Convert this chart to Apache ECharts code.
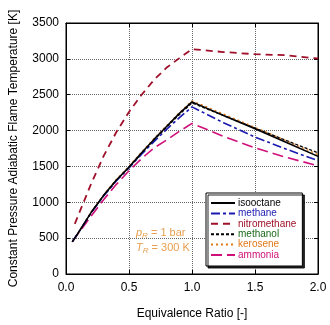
<!DOCTYPE html>
<html>
<head>
<meta charset="utf-8">
<script src="https://cdn.jsdelivr.net/npm/echarts@6/dist/echarts.min.js"></script>
<style>
  html, body { margin: 0; padding: 0; background: #fff; }
  #chart { width: 330px; height: 325px; }
</style>
</head>
<body>
<div id="chart"></div>
<script>
// Equivalence ratios at which the flame temperatures are tabulated
const phi = [0.05, 0.1, 0.2, 0.3, 0.4, 0.5, 0.6, 0.7, 0.8, 0.9, 1.0, 1.25, 1.5, 1.75, 2.0];
const phiNitro = [0.07, 0.1, 0.2, 0.3, 0.4, 0.5, 0.6, 0.7, 0.8, 0.9, 1.0, 1.25, 1.5, 1.75, 2.0];

// Adiabatic flame temperature [K] per fuel
const isooctane    = [450, 580, 860, 1100, 1310, 1490, 1690, 1880, 2060, 2240, 2400, 2210, 2025, 1835, 1640];
const methane      = [450, 580, 855, 1090, 1300, 1480, 1670, 1850, 2020, 2180, 2330, 2110, 1910, 1740, 1580];
const nitromethane = [700, 830, 1260, 1650, 1980, 2260, 2500, 2710, 2880, 3010, 3135, 3095, 3065, 3050, 3005];
const methanol     = [450, 580, 855, 1095, 1305, 1485, 1680, 1870, 2050, 2225, 2385, 2210, 2035, 1860, 1690];
const kerosene     = [450, 585, 865, 1105, 1320, 1500, 1700, 1890, 2070, 2250, 2415, 2230, 2045, 1855, 1665];
const ammonia      = [450, 570, 810, 1040, 1250, 1440, 1610, 1760, 1870, 1990, 2100, 1920, 1760, 1625, 1510];

const fuelNames  = ['isooctane', 'methane', 'nitromethane', 'methanol', 'kerosene', 'ammonia'];
const textColors = ['#000000', '#1a1ab0', '#a0102a', '#1a6a1a', '#e07818', '#d0107a'];

const xTicks = { min: 0, max: 2, interval: 0.5 };
const yTicks = { min: 0, max: 3500, interval: 500 };

const font = 'Liberation Sans, Arial, sans-serif';

function pairs(xs, ys) { return xs.map((x, i) => [x, ys[i]]); }

const lineDefs = [
  { data: pairs(phi, isooctane),        color: '#000000', type: 'solid',   width: 1.6 },
  { data: pairs(phi, methane),          color: '#1a1ab0', type: [9, 3, 3, 3], width: 1.6 },
  { data: pairs(phiNitro, nitromethane),color: '#a0102a', type: [7, 5],   width: 1.8 },
  { data: pairs(phi, methanol),         color: '#000000', type: [3, 2],   width: 1.3 },
  { data: pairs(phi, kerosene),         color: '#e07818', type: [2, 3],   width: 1.4 },
  { data: pairs(phi, ammonia),          color: '#d0107a', type: [11, 5],  width: 1.6 }
];

const series = lineDefs.map((d, i) => ({
  name: fuelNames[i],
  type: 'line',
  data: d.data,
  symbol: 'none',
  smooth: false,
  z: 10 - i,
  lineStyle: { color: d.color, type: d.type, width: d.width },
  itemStyle: { color: d.color },
  animation: false
}));

const chart = echarts.init(document.getElementById('chart'), null, { renderer: 'canvas' });

const gridLine = { show: true, lineStyle: { color: '#666', type: [1, 1], width: 1 } };

chart.setOption({
  animation: false,
  backgroundColor: '#ffffff',
  grid: { left: 62.5, right: 12, top: 23, bottom: 48.5, show: true, borderColor: '#000', borderWidth: 1, backgroundColor: 'transparent' },
  xAxis: [{
    type: 'value', min: xTicks.min, max: xTicks.max, interval: xTicks.interval,
    name: 'Equivalence Ratio [-]', nameLocation: 'middle', nameGap: 34,
    nameTextStyle: { color: '#000', fontSize: 12, fontFamily: font },
    axisLine: { show: true, onZero: false, lineStyle: { color: '#000', width: 1 } },
    axisTick: { show: true, inside: true, length: 4, lineStyle: { color: '#000' } },
    axisLabel: { color: '#000', fontSize: 12, fontFamily: font, margin: 8,
      formatter: v => v.toFixed(1) },
    splitLine: gridLine
  }, {
    type: 'value', position: 'top', min: xTicks.min, max: xTicks.max, interval: xTicks.interval,
    axisLine: { show: true, onZero: false, lineStyle: { color: '#000' } },
    axisTick: { show: true, inside: true, length: 4, lineStyle: { color: '#000' } },
    axisLabel: { show: false }, splitLine: { show: false }
  }],
  yAxis: [{
    type: 'value', min: yTicks.min, max: yTicks.max, interval: yTicks.interval,
    name: 'Constant Pressure Adiabatic Flame Temperature [K]', nameLocation: 'middle', nameGap: 46,
    nameTextStyle: { color: '#000', fontSize: 12, fontFamily: font },
    axisLine: { show: true, onZero: false, lineStyle: { color: '#000', width: 1 } },
    axisTick: { show: true, inside: true, length: 4, lineStyle: { color: '#000' } },
    axisLabel: { color: '#000', fontSize: 12, fontFamily: font, margin: 7,
      formatter: v => String(v) },
    splitLine: gridLine
  }, {
    type: 'value', position: 'right', min: yTicks.min, max: yTicks.max, interval: yTicks.interval,
    axisLine: { show: true, onZero: false, lineStyle: { color: '#000' } },
    axisTick: { show: true, inside: true, length: 4, lineStyle: { color: '#000' } },
    axisLabel: { show: false }, splitLine: { show: false }
  }],
  legend: {
    orient: 'vertical',
    left: 206, top: 193,
    padding: [5, 6, 6, 4],
    itemWidth: 24, itemHeight: 9, itemGap: 0.4,
    backgroundColor: '#ffffff',
    borderColor: '#000', borderWidth: 1, borderRadius: 0,
    shadowColor: 'rgba(0,0,0,0.85)', shadowBlur: 0, shadowOffsetX: 2, shadowOffsetY: 2,
    itemStyle: { opacity: 0, borderWidth: 0 },
    textStyle: { fontSize: 10, fontFamily: font, lineHeight: 9, padding: [0, 0, 0, -2] },
    data: fuelNames.map((n, i) => ({ name: n, textStyle: { color: textColors[i] } }))
  },
  graphic: [{
    type: 'text', left: 136, top: 227,
    style: {
      text: '{i|p}{s|R}{n| = 1 bar}',
      rich: {
        i: { fontStyle: 'italic', fontSize: 11, fontFamily: font, fill: '#e8a050' },
        s: { fontStyle: 'italic', fontSize: 8, fontFamily: font, fill: '#e8a050', verticalAlign: 'bottom', padding: [6, 0, 0, 0] },
        n: { fontSize: 11, fontFamily: font, fill: '#e8a050' }
      }
    }
  }, {
    type: 'text', left: 136, top: 242,
    style: {
      text: '{i|T}{s|R}{n| = 300 K}',
      rich: {
        i: { fontStyle: 'italic', fontSize: 11, fontFamily: font, fill: '#e8a050' },
        s: { fontStyle: 'italic', fontSize: 8, fontFamily: font, fill: '#e8a050', verticalAlign: 'bottom', padding: [6, 0, 0, 0] },
        n: { fontSize: 11, fontFamily: font, fill: '#e8a050' }
      }
    }
  }],
  series: series
});
</script>
</body>
</html>
